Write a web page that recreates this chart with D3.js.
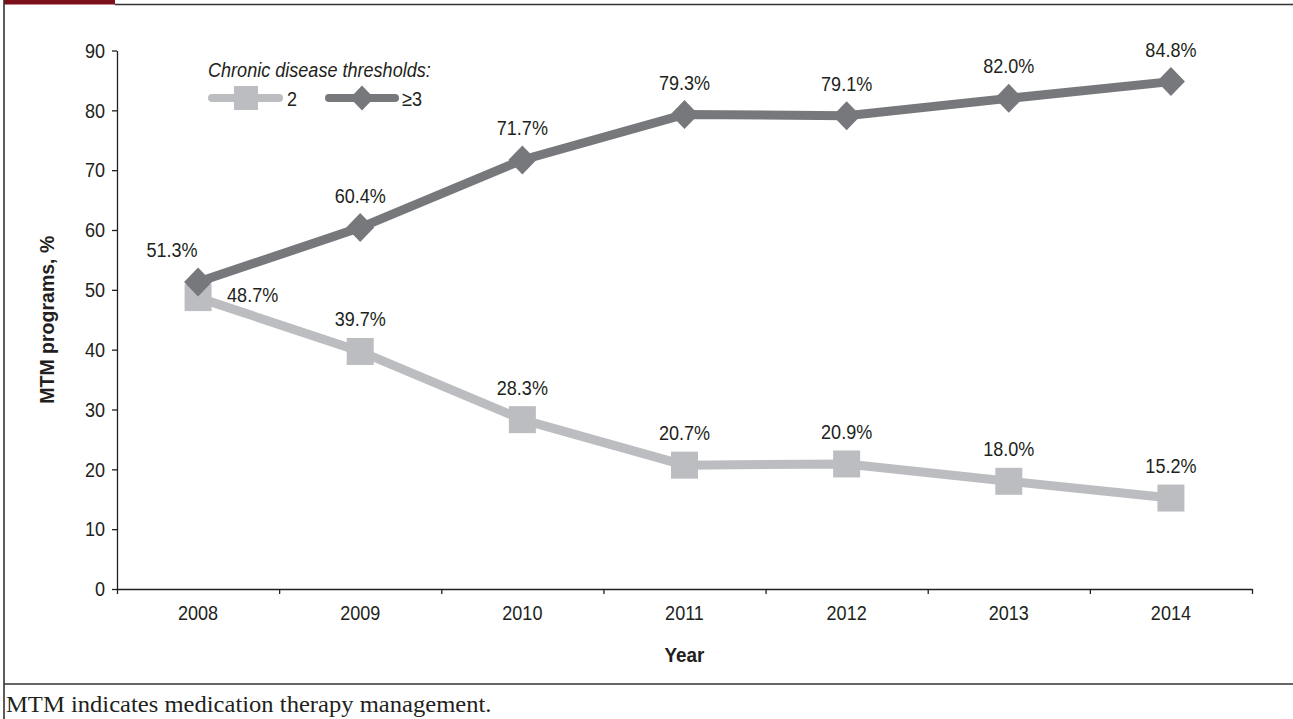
<!DOCTYPE html>
<html>
<head>
<meta charset="utf-8">
<script src="https://cdn.jsdelivr.net/npm/d3@7"></script>
<style>
html,body{margin:0;padding:0;background:#fff;}
svg{display:block;}
text{font-family:"Liberation Sans",Arial,sans-serif;}
</style>
</head>
<body>
<svg id="chart" width="1293" height="719"></svg>
<script>
const years = ["2008","2009","2010","2011","2012","2013","2014"];
const series2 = [48.7, 39.7, 28.3, 20.7, 20.9, 18.0, 15.2];
const series3 = [51.3, 60.4, 71.7, 79.3, 79.1, 82.0, 84.8];
const yTicks = [0,10,20,30,40,50,60,70,80,90];
const legendTitle = "Chronic disease thresholds:";
const seriesNames = ["2", "≥3"];
const footnote = "MTM indicates medication therapy management.";

const W = 1293, H = 719;
const textColor = "#231f20";
const light = "#bcbdc0", dark = "#77787b";
const SX = 0.86, FS = 21;
const svg = d3.select("#chart");

// helper: condensed text (horizontal scale) anchored at (x,y)
function addText(parent, o){
  const g = parent.append("g").attr("transform",`translate(${o.x},${o.y})${o.rotate?` rotate(${o.rotate})`:""} scale(${o.sx ?? SX},1)`);
  const t = g.append("text").attr("x",0).attr("y",0)
    .attr("text-anchor",o.anchor || "start")
    .attr("font-size",o.size || FS)
    .attr("fill",textColor)
    .text(o.text);
  if(o.weight) t.attr("font-weight",o.weight);
  if(o.style) t.attr("font-style",o.style);
  if(o.family) t.style("font-family",o.family);
  return t;
}

// frame
svg.append("rect").attr("x",4).attr("y",0).attr("width",111).attr("height",4.5).attr("fill","#7b0f1a");
svg.append("line").attr("x1",115).attr("x2",W).attr("y1",4.5).attr("y2",4.5).attr("stroke","#333").attr("stroke-width",1.6);
svg.append("line").attr("x1",4).attr("x2",4).attr("y1",0).attr("y2",H).attr("stroke","#333").attr("stroke-width",1.6);
svg.append("line").attr("x1",4).attr("x2",W).attr("y1",684).attr("y2",684).attr("stroke","#333").attr("stroke-width",1.6);

const pLeft = 117, pRight = 1252, pTop = 50.5, pBottom = 589;
const x = d3.scaleBand().domain(years).range([pLeft,pRight]).padding(0);
const xEdge = d3.scaleLinear().domain([0, years.length]).range([pLeft,pRight]);
const y = d3.scaleLinear().domain([0,90]).range([pBottom,pTop]);

// y axis
const yAxis = svg.append("g").attr("transform",`translate(${pLeft},0)`)
  .call(d3.axisLeft(y).tickValues(yTicks).tickSize(5).tickSizeOuter(0).tickPadding(7));
yAxis.attr("font-family",null).attr("font-size",null);
yAxis.selectAll("path,line").attr("stroke",textColor).attr("stroke-width",1.3);
yAxis.selectAll("text").attr("fill",textColor).attr("font-size",FS)
  .attr("x",0).attr("transform",`translate(-12,0) scale(${SX},1)`);

// x axis
const xAxisTicks = svg.append("g").attr("transform",`translate(0,${pBottom})`)
  .call(d3.axisBottom(xEdge).tickValues(d3.range(years.length+1)).tickSize(5).tickSizeOuter(0).tickFormat(""));
xAxisTicks.selectAll("path,line").attr("stroke",textColor).attr("stroke-width",1.3);
const xAxisLabels = svg.append("g").attr("transform",`translate(0,${pBottom})`)
  .call(d3.axisBottom(x).tickSize(0).tickPadding(16));
xAxisLabels.attr("font-family",null).attr("font-size",null);
xAxisLabels.select("path").remove();
xAxisLabels.selectAll("text").attr("fill",textColor).attr("font-size",FS)
  .attr("y",0).attr("transform",`translate(0,16) scale(${SX},1)`);

// axis titles
addText(svg,{x:(pLeft+pRight)/2, y:662, text:"Year", anchor:"middle", weight:"bold", sx:0.9});
addText(svg,{x:54, y:(pTop+pBottom)/2, rotate:-90, text:"MTM programs, %", anchor:"middle", weight:"bold", sx:0.93});

const cx = i => x(years[i]) + x.bandwidth()/2;
const line = d3.line().x((d,i)=>cx(i)).y(d=>y(d));

function squarePath(s){ return `M${-s/2},${-s/2}H${s/2}V${s/2}H${-s/2}Z`; }
function diamondPath(w,h){ return `M0,${-h/2}L${w/2},0L0,${h/2}L${-w/2},0Z`; }

// light series
svg.append("path").datum(series2).attr("d",line).attr("fill","none").attr("stroke",light).attr("stroke-width",9);
svg.selectAll(".m2").data(series2).enter().append("path")
  .attr("d",squarePath(27)).attr("transform",(d,i)=>`translate(${cx(i)},${y(d)})`).attr("fill",light);
// dark series
svg.append("path").datum(series3).attr("d",line).attr("fill","none").attr("stroke",dark).attr("stroke-width",9);
svg.selectAll(".m3").data(series3).enter().append("path")
  .attr("d",diamondPath(28,29)).attr("transform",(d,i)=>`translate(${cx(i)},${y(d)})`).attr("fill",dark);

// value labels
const fmt = d => d.toFixed(1) + "%";
series3.forEach((d,i)=>{
  addText(svg,{x: i===0 ? cx(i)-26 : cx(i), y: y(d)-25, text: fmt(d), anchor:"middle"});
});
series2.forEach((d,i)=>{
  if(i===0) addText(svg,{x: cx(i)+29, y: y(d)+4, text: fmt(d), anchor:"start"});
  else addText(svg,{x: cx(i), y: y(d)-25, text: fmt(d), anchor:"middle"});
});

// legend
addText(svg,{x:208, y:77, text:legendTitle, style:"italic"});
svg.append("line").attr("x1",212).attr("x2",279).attr("y1",98).attr("y2",98).attr("stroke",light).attr("stroke-width",8).attr("stroke-linecap","round");
svg.append("path").attr("d",squarePath(24)).attr("transform","translate(246,98)").attr("fill",light);
addText(svg,{x:287, y:106, text:seriesNames[0]});
svg.append("line").attr("x1",329).attr("x2",395).attr("y1",98).attr("y2",98).attr("stroke",dark).attr("stroke-width",8).attr("stroke-linecap","round");
svg.append("path").attr("d",diamondPath(24,25)).attr("transform","translate(362,98)").attr("fill",dark);
addText(svg,{x:402, y:106, text:seriesNames[1]});

// footnote
addText(svg,{x:6, y:712, text:footnote, size:23, sx:1.07, family:"'Liberation Serif','Times New Roman',serif"});
</script>
</body>
</html>
